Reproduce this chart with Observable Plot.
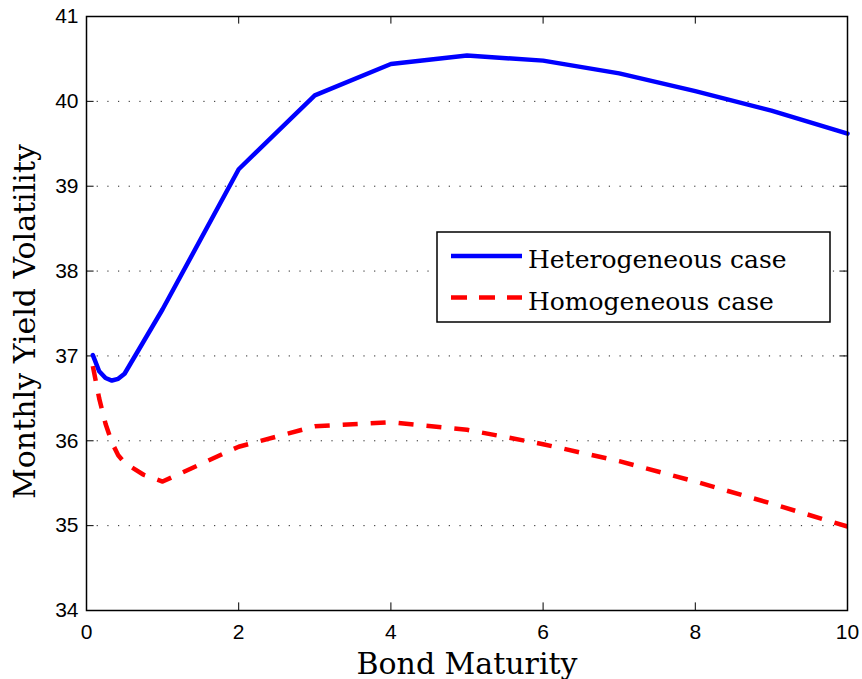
<!DOCTYPE html>
<html><head><meta charset="utf-8">
<script src="https://cdn.jsdelivr.net/npm/d3@7"></script>
<script src="https://cdn.jsdelivr.net/npm/@observablehq/plot@0.6"></script>
<style>body{margin:0;background:#fff} #chart svg{display:block}</style>
</head><body><div id="chart"></div>
<script>
const maturity = [1/12, 2/12, 3/12, 4/12, 5/12, 6/12, 0.75, 1, 2, 3, 4, 5, 6, 7, 8, 9, 10];
const heterogeneous = [37.01, 36.82, 36.74, 36.71, 36.73, 36.79, 37.17, 37.55, 39.20, 40.07, 40.44, 40.54, 40.48, 40.33, 40.12, 39.89, 39.62];
const homogeneous = [36.88, 36.50, 36.20, 35.98, 35.83, 35.74, 35.60, 35.52, 35.93, 36.17, 36.22, 36.13, 35.96, 35.76, 35.52, 35.26, 34.99];
const seriesNames = ["Heterogeneous case", "Homogeneous case"];
const yTicks = [34, 35, 36, 37, 38, 39, 40, 41];
const xTicks = [0, 2, 4, 6, 8, 10];
const xLabel = "Bond Maturity";
const yLabel = "Monthly Yield Volatility";

const hetRows = maturity.map((m, i) => ({m, v: heterogeneous[i], s: seriesNames[0]}));
const homRows = maturity.map((m, i) => ({m, v: homogeneous[i], s: seriesNames[1]}));

const W = 862, H = 679, ML = 86, MR = 15, MT = 16, MB = 69;
const PW = W - ML - MR, PH = H - MT - MB;
const TK = 7.6;
const serif = "'DejaVu Serif', serif";
const sans = "'Liberation Sans', Arial, sans-serif";

const chart = Plot.plot({
  width: W, height: H,
  marginLeft: ML, marginRight: MR, marginTop: MT, marginBottom: MB,
  x: {domain: [0, 10]},
  y: {domain: [34, 41]},
  style: {fontFamily: sans, fontSize: "21px", background: "white", color: "black"},
  marks: [
    Plot.gridY(yTicks.slice(1, -1), {stroke: "#222", strokeOpacity: 1, strokeWidth: 1, strokeDasharray: "1.2,9.47"}),
    Plot.tickY(yTicks, {y: d => d, stroke: "black", strokeWidth: 1, insetRight: PW - TK}),
    Plot.tickY(yTicks, {y: d => d, stroke: "black", strokeWidth: 1, insetLeft: PW - TK}),
    Plot.tickX(xTicks, {x: d => d, stroke: "black", strokeWidth: 1, insetTop: PH - TK}),
    Plot.tickX(xTicks, {x: d => d, stroke: "black", strokeWidth: 1, insetBottom: PH - TK}),
    Plot.axisY(yTicks, {tickSize: 0, tickPadding: 8, label: null, fontSize: 21, tickFormat: d3.format("d")}),
    Plot.axisX(xTicks, {tickSize: 0, tickPadding: 14, label: null, fontSize: 21, tickFormat: d3.format("d")}),
    Plot.line(hetRows, {x: "m", y: "v", stroke: "#0000ff", strokeWidth: 4.5, strokeLinejoin: "round"}),
    Plot.line(homRows, {x: "m", y: "v", stroke: "#ff0000", strokeWidth: 4.5, strokeDasharray: "15,13", strokeLinecap: "butt"}),
    Plot.frame({stroke: "black", strokeWidth: 1.5}),
    Plot.text([xLabel], {frameAnchor: "bottom", dy: 63, lineAnchor: "bottom", fontFamily: serif, fontSize: 30, fill: "black"}),
    Plot.text([yLabel], {frameAnchor: "left", rotate: -90, dx: -52, dy: 8, textAnchor: "middle", lineAnchor: "bottom", fontFamily: serif, fontSize: 30, fill: "black"})
  ]
});
document.getElementById("chart").appendChild(chart);

// Legend
const svg = d3.select(chart);
const lg = svg.append("g").attr("class", "legend").attr("text-anchor", "start");
const lx = 437, ly = 232, lw = 393, lh = 90;
lg.append("rect").attr("x", lx).attr("y", ly).attr("width", lw).attr("height", lh)
  .attr("fill", "white").attr("stroke", "black").attr("stroke-width", 1.5);
const entries = [
  {name: seriesNames[0], color: "#0000ff", dash: null, cy: 256, base: 268},
  {name: seriesNames[1], color: "#ff0000", dash: "16,12", cy: 297.5, base: 310}
];
for (const e of entries) {
  const ln = lg.append("line").attr("x1", 451).attr("x2", 522).attr("y1", e.cy).attr("y2", e.cy)
    .attr("stroke", e.color).attr("stroke-width", 4.5);
  if (e.dash) ln.attr("stroke-dasharray", e.dash);
  lg.append("text").attr("x", 528).attr("y", e.base).attr("text-anchor", "start").text(e.name)
    .attr("font-family", serif).attr("font-size", 25).attr("fill", "black");
}
</script>
</body></html>
